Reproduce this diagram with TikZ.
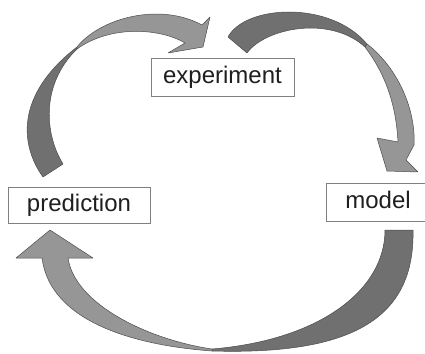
\documentclass[tikz,border=0pt]{standalone}
\usepackage{fontspec}
\setsansfont{Liberation Sans}
\definecolor{darkband}{gray}{0.44}
\definecolor{lightband}{gray}{0.59}
\definecolor{edgegray}{gray}{0.30}
\definecolor{boxgray}{gray}{0.50}
\definecolor{txtgray}{gray}{0.12}
\tikzset{
  darkpart/.style={fill=darkband, draw=edgegray, line width=0.5pt, line join=round},
  lightpart/.style={fill=lightband, draw=edgegray, line width=0.5pt, line join=round},
  labelbox/.style={draw=boxgray, line width=0.8pt, fill=white, inner sep=0pt,
    text=txtgray, font=\sffamily\fontsize{24}{28}\selectfont,
    text height=17pt, text depth=5pt}
}
\begin{document}
\begin{tikzpicture}[x=1pt,y=-1pt]
\useasboundingbox (0,0) rectangle (425,353);
% boxes
\node[labelbox, minimum width=143pt, minimum height=38pt] (experiment) at (222.5,77.5) {experiment};
\node[labelbox, minimum width=142pt, minimum height=36pt] (prediction) at (79,205) {prediction};
\node[labelbox, minimum width=104pt, minimum height=38pt] (model) at (378,202) {model};
% arrow prediction -> experiment
\draw[darkpart] (43,177) -- (63,164) .. controls (45,135) and (40,85) .. (77,49)
  -- (77,47) .. controls (15,95) and (20,145) .. (43,177) -- cycle;
\draw[lightpart] (77,47) .. controls (100,18) and (160,2) .. (202,25)
  -- (210,17) -- (203,47) -- (168,53) -- (185,43)
  .. controls (160,28) and (110,25) .. (77,49) -- cycle;
% arrow experiment -> model
\draw[darkpart] (228,37) .. controls (245,5) and (330,0) .. (367,44)
  -- (365,47) .. controls (330,15) and (265,28) .. (247,53) -- cycle;
\draw[lightpart] (367,44) .. controls (398,68) and (416,110) .. (414,145)
  -- (406,160) -- (418,172) -- (387,171) -- (377,138) -- (398,142)
  .. controls (396,105) and (386,75) .. (365,47) -- cycle;
% arrow model -> prediction
\draw[darkpart] (385,230) -- (413,230) .. controls (415,320) and (350,355) .. (212,351)
  -- (212,349) .. controls (320,340) and (385,290) .. (385,230) -- cycle;
\draw[lightpart] (212,351) .. controls (130,345) and (50,320) .. (42,258)
  -- (16,258) -- (50,230) -- (93,258) -- (68,258)
  .. controls (75,305) and (150,340) .. (212,349) -- cycle;
\end{tikzpicture}
\end{document}
